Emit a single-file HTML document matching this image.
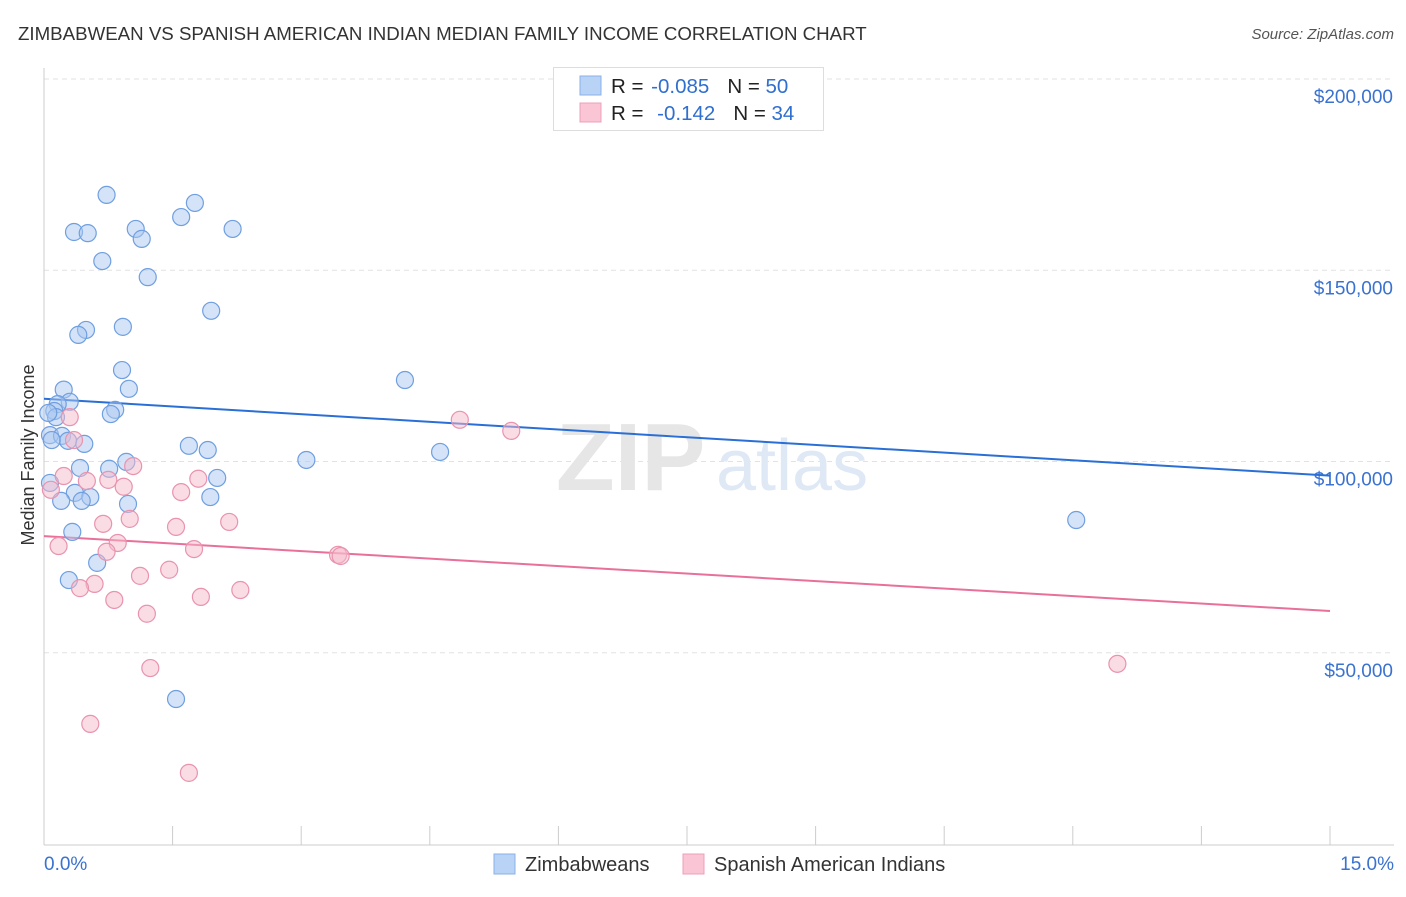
<!DOCTYPE html>
<html><head><meta charset="utf-8">
<style>
body{margin:0;background:#fff;font-family:"Liberation Sans",sans-serif;}
svg text{font-family:"Liberation Sans",sans-serif;}
</style></head>
<body>
<svg id="chart" width="1406" height="892" viewBox="0 0 1406 892">
<text x="18" y="40" font-size="18.7" fill="#333">ZIMBABWEAN VS SPANISH AMERICAN INDIAN MEDIAN FAMILY INCOME CORRELATION CHART</text>
<text x="1394" y="39" font-size="15" fill="#555" text-anchor="end" font-style="italic">Source: ZipAtlas.com</text>
<g id="grid"></g>
<text x="556" y="490" font-size="96" fill="#e6e6e6" font-family="Liberation Serif" font-weight="bold">ZIP</text>
<text x="716" y="490" font-size="72" fill="#dfe8f5">atlas</text>
<g id="axes"></g>
<text x="34" y="455" font-size="18" fill="#333" text-anchor="middle" transform="rotate(-90 34 455)">Median Family Income</text>
<g id="lines"></g>
<g id="points"></g>
<g>
<rect x="553.5" y="67.5" width="270" height="63" fill="#fff" stroke="#ddd"/>
<rect x="580" y="76" width="21" height="19" fill="#b8d3f5" stroke="#8ab2e8"/>
<rect x="580" y="103" width="21" height="19" fill="#fac5d5" stroke="#eea0b8"/>
<text x="611" y="93" font-size="20.5" fill="#222">R = <tspan dx="2" fill="#2f6fd0">-0.085</tspan><tspan dx="18">N = </tspan><tspan fill="#2f6fd0">50</tspan></text>
<text x="611" y="120" font-size="20.5" fill="#222">R = <tspan dx="8" fill="#2f6fd0">-0.142</tspan><tspan dx="18">N = </tspan><tspan fill="#2f6fd0">34</tspan></text>
</g>
<g>
<rect x="494" y="854" width="21" height="20" fill="#b8d3f5" stroke="#8ab2e8"/>
<text x="525" y="871" font-size="20" fill="#333">Zimbabweans</text>
<rect x="683" y="854" width="21" height="20" fill="#fac5d5" stroke="#eea0b8"/>
<text x="714" y="871" font-size="20" fill="#333">Spanish American Indians</text>
</g>
</svg>
<script>
const yTicks=[50000,100000,150000,200000];
const yTickLabels=["$50,000","$100,000","$150,000","$200,000"];
const xTickLabels=["0.0%","15.0%"];
const blueX=[0.73,1.76,1.60,1.07,0.35,0.51,2.20,1.14,0.68,1.21,1.95,0.92,0.49,0.40,0.91,4.21,0.99,0.23,0.30,0.16,0.12,0.83,0.78,0.14,0.07,0.21,0.28,0.47,1.69,1.91,4.62,0.96,3.06,0.42,0.76,2.02,0.07,0.36,0.54,0.20,0.44,1.94,0.98,0.33,12.04,0.62,0.29,1.54,0.05,0.09];
const blueY=[169.7,167.6,163.9,160.8,160.0,159.7,160.8,158.2,152.4,148.2,139.4,135.2,134.4,133.1,123.9,121.3,119.0,118.8,115.6,115.0,113.2,113.5,112.4,111.6,106.9,106.7,105.4,104.6,104.1,103.0,102.5,99.9,100.4,98.3,98.1,95.7,94.4,91.8,90.7,89.7,89.7,90.7,88.9,81.6,84.7,73.5,69.0,37.9,112.7,105.6];
const pinkX=[1.04,0.23,0.75,0.50,0.93,1.60,1.80,0.08,0.30,0.35,4.85,5.45,0.69,1.00,1.54,2.16,0.17,0.86,0.73,1.75,3.43,3.46,1.12,1.46,0.59,0.42,2.29,0.82,1.83,1.20,1.24,0.54,1.69,12.52];
const pinkY=[98.8,96.2,95.2,94.9,93.4,92.0,95.5,92.6,111.6,105.6,110.9,108.0,83.7,85.0,82.9,84.2,77.9,78.7,76.4,77.1,75.6,75.3,70.1,71.7,68.0,66.9,66.4,63.8,64.6,60.2,46.0,31.4,18.6,47.1];
const blueTrend=[116.4,96.3];
const pinkTrend=[80.5,60.9];
const NS="http://www.w3.org/2000/svg";
const X=v=>44+v/15*1286;
const Y=v=>844-v/200000*765;
function mk(tag,attrs,parent){const e=document.createElementNS(NS,tag);for(const k in attrs)e.setAttribute(k,attrs[k]);document.getElementById(parent).appendChild(e);return e;}
yTicks.forEach((t,i)=>{
 const l=mk('line',{x1:44,x2:1394,y1:Y(t),y2:Y(t),stroke:'#e2e2e2','stroke-dasharray':'5,4'},'grid');
 
 
 const tx=mk('text',{x:1393,y:Y(t)+24,'font-size':19,fill:'#3a72d0','text-anchor':'end'},'axes');
 tx.textContent=yTickLabels[i];
 
 
});
const a1=mk('line',{x1:44,x2:44,y1:68,y2:845,stroke:'#ccc'},'axes');


const a2=mk('line',{x1:44,x2:1394,y1:845,y2:845,stroke:'#ccc'},'axes');


for(let i=0;i<=10;i++){
 const tk=mk('line',{x1:X(i*1.5),x2:X(i*1.5),y1:826,y2:845,stroke:'#ccc'},'axes');
 
 
}
[[0,'start',44],[15,'end',1394]].forEach((d,i)=>{
 const tx=mk('text',{x:d[2],y:870,'font-size':19,fill:'#3a72d0','text-anchor':d[1]},'axes');
 tx.textContent=xTickLabels[i];
 
 
});
function pts(xs,ys,fill,stroke,name){
 xs.forEach((x,i)=>{
  const c=mk('circle',{cx:X(x),cy:Y(ys[i]*1000),r:8.5,fill:fill,'fill-opacity':0.5,stroke:stroke,'stroke-width':1.2},'points');
  
  
 });
}
pts(blueX,blueY,'#a9c8f0','#6f9fe0','zimbabwean-point');
pts(pinkX,pinkY,'#f6b9cc','#e993ae','spanish-american-indian-point');
const bl=mk('line',{x1:X(0),x2:X(15),y1:Y(blueTrend[0]*1000),y2:Y(blueTrend[1]*1000),stroke:'#2a6fd6','stroke-width':2},'lines');


const pl=mk('line',{x1:X(0),x2:X(15),y1:Y(pinkTrend[0]*1000),y2:Y(pinkTrend[1]*1000),stroke:'#e8709a','stroke-width':2},'lines');


</script>
</body></html>
